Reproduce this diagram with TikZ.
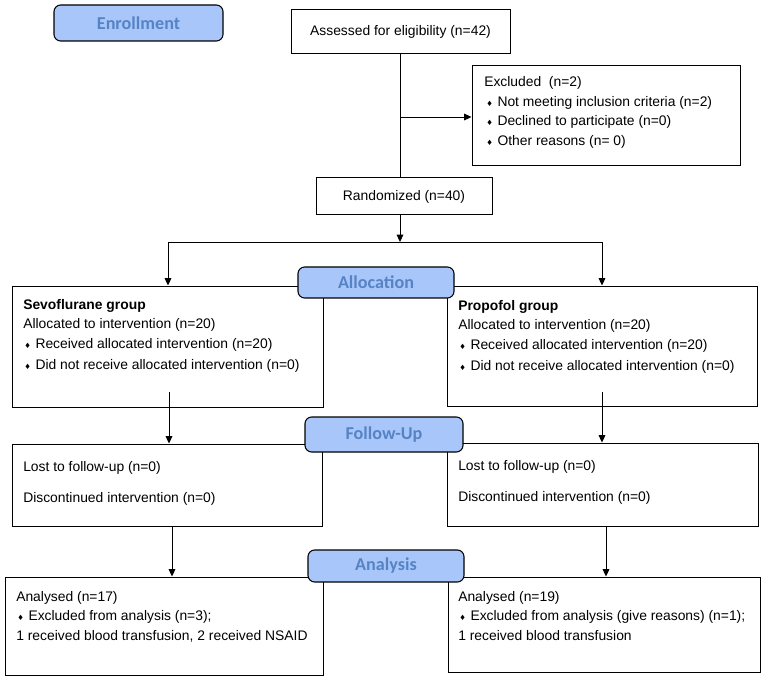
\documentclass[tikz,border=0pt]{standalone}
\usepackage{fontspec}
\setmainfont{Liberation Sans}
\newfontfamily\hdrfont{Carlito}
\newfontfamily\symfont{DejaVu Sans}
\usetikzlibrary{arrows.meta,fit}
\definecolor{hdrfill}{RGB}{168,198,250}
\definecolor{hdrtext}{RGB}{86,131,196}
\newcommand\bul{{\symfont\fontsize{5.5}{6}\selectfont ♦}\hspace{3.5pt}}
\begin{document}
\begin{tikzpicture}[x=0.75pt,y=-0.75pt,
  font=\fontsize{10.4}{12}\selectfont,
  box/.style={draw, line width=0.7pt, inner sep=0pt},
  hdr/.style={draw, line width=0.8pt, rounded corners=5pt, fill=hdrfill, inner sep=0pt},
  hdrtxt/.style={text=hdrtext, font=\hdrfont\bfseries\fontsize{13.6}{14}\selectfont, inner sep=0pt},
  txt/.style={anchor=west, inner sep=0pt},
  conn/.style={line width=0.65pt},
  arr/.style={conn, -{Triangle[length=5.5pt,width=5pt]}}]
\useasboundingbox (0,0) rectangle (765,681);
\fill[white] (0,0) rectangle (765,681);

% boxes
\node[box, fit={(291,9)(510,53)}] (assess) {};
\node[box, fit={(472,65)(740,165)}] (excl) {};
\node[box, fit={(316,177)(492,214)}] (rand) {};
\node[box, fit={(12,286)(323,407)}] (sevo) {};
\node[box, fit={(447,286)(757,406)}] (prop) {};
\node[box, fit={(12,444)(322,526)}] (fupL) {};
\node[box, fit={(447,443)(758,526)}] (fupR) {};
\node[box, fit={(5,577)(323,675)}] (anL) {};
\node[box, fit={(448,577)(760,672)}] (anR) {};

% texts
\node[inner sep=0pt] (assesst) at ([yshift=-1pt]assess.center) {Assessed for eligibility (n=42)};
\node[inner sep=0pt] (randt) at ([yshift=-1pt]rand.center) {Randomized (n=40)};

\node[txt] (ex1) at (484,83) {Excluded\ \ (n=2)};
\node[txt] (ex2) at (486,103) {\bul Not meeting inclusion criteria (n=2)};
\node[txt] (ex3) at (486,122) {\bul Declined to participate (n=0)};
\node[txt] (ex4) at (486,142) {\bul Other reasons (n= 0)};

\node[txt] (sv1) at (23,306) {\bfseries Sevoflurane group};
\node[txt] (sv2) at (23,325) {Allocated to intervention (n=20)};
\node[txt] (sv3) at (24,345) {\bul Received allocated intervention (n=20)};
\node[txt] (sv4) at (24,366) {\bul Did not receive allocated intervention (n=0)};

\node[txt] (pp1) at (458,307) {\bfseries Propofol group};
\node[txt] (pp2) at (458,326) {Allocated to intervention (n=20)};
\node[txt] (pp3) at (459,346) {\bul Received allocated intervention (n=20)};
\node[txt] (pp4) at (459,367) {\bul Did not receive allocated intervention (n=0)};

\node[txt] (fl1) at (23,468) {Lost to follow-up (n=0)};
\node[txt] (fl2) at (23,499) {Discontinued intervention (n=0)};
\node[txt] (fr1) at (458,467) {Lost to follow-up (n=0)};
\node[txt] (fr2) at (458,498) {Discontinued intervention (n=0)};

\node[txt] (al1) at (16,598) {Analysed (n=17)};
\node[txt] (al2) at (17,617) {\bul Excluded from analysis (n=3);};
\node[txt] (al3) at (16,636) {1 received blood transfusion, 2 received NSAID};
\node[txt] (ar1) at (458,598) {Analysed (n=19)};
\node[txt] (ar2) at (459,617) {\bul Excluded from analysis (give reasons) (n=1);};
\node[txt] (ar3) at (458,636) {1 received blood transfusion};

% connectors
\coordinate (exbranch) at (400,117);
\coordinate (split) at (400,242);
\coordinate (splitL) at (168,242);
\coordinate (splitR) at (602,242);
\coordinate (svout) at (169,392);
\coordinate (ppout) at (602,392);
\draw[conn] (assess.south) -- (assess.south |- rand.north);
\draw[arr] (exbranch) -- (exbranch -| excl.west);
\draw[arr] (rand.south -| split) -- (split);
\draw[conn] (splitL) -- (splitR);
\draw[arr] (splitL) -- (splitL |- sevo.north);
\draw[arr] (splitR) -- (splitR |- prop.north);
\draw[arr] (svout) -- (svout |- fupL.north);
\draw[arr] (ppout) -- (ppout |- fupR.north);
\draw[arr] (172,526) coordinate (flout) -- (flout |- anL.north);
\draw[arr] (606,526) coordinate (frout) -- (frout |- anR.north);

% stage headers
\node[hdr, fit={(54,5)(223,41)}] (enr) {};
\node[hdr, fit={(298,267)(454,298)}] (alloc) {};
\node[hdr, fit={(305,417)(463,452)}] (fup) {};
\node[hdr, fit={(308,550)(464,582)}] (anal) {};
\node[hdrtxt] (enrt) at (enr.center) {Enrollment};
\node[hdrtxt] (alloct) at (alloc.center) {Allocation};
\node[hdrtxt] (fupt) at (fup.center) {Follow-Up};
\node[hdrtxt] (analt) at (anal.center) {Analysis};
\end{tikzpicture}
\end{document}
